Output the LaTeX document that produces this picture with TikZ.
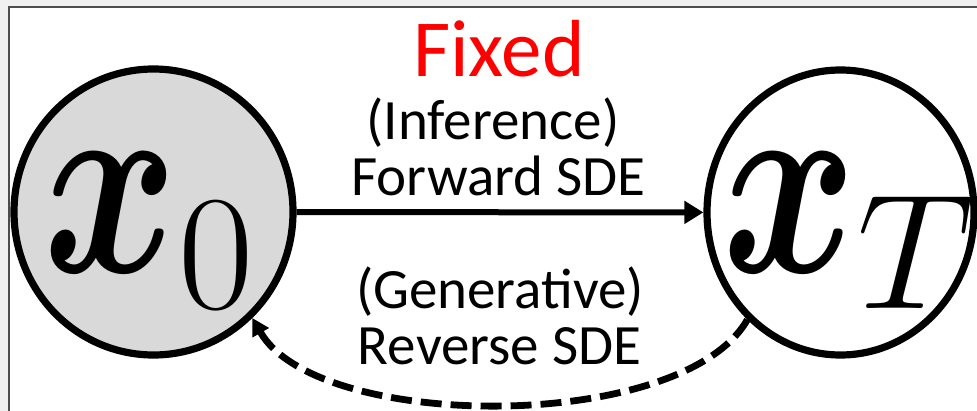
\RequirePackage{fix-cm}
\documentclass[tikz,border=0pt]{standalone}
\usepackage[no-math]{fontspec}
\setmainfont{Carlito}
\usepackage{bm}
\usepackage{tikz}
\usetikzlibrary{arrows.meta,shapes.geometric}
\definecolor{stategray}{HTML}{D9D9D9}
\definecolor{framegray}{HTML}{F0F0F0}
\definecolor{edgegray}{HTML}{4D4D4D}
\DeclareMathSizes{120}{120}{82}{60}
\newcommand{\bx}{\scalebox{0.85}[1.12]{$\bm{x}$}}

\begin{document}
\begin{tikzpicture}[
  x=0.5pt, y=-0.5pt,
  state/.style={draw, ellipse, line width=3.6pt, inner sep=0pt},
  sym/.style={inner sep=0pt, anchor=base, font=\fontsize{120}{130}\selectfont},
  lbl/.style={inner sep=0pt, anchor=base, font=\fontsize{28.5}{34}\selectfont},
  ar/.style={-{Triangle[length=9.5pt, width=11pt]}, line width=3pt},
  back/.style={-{Triangle[length=8.5pt, width=9pt]}, line width=3.4pt,
               dash pattern=on 10.5pt off 4.5pt}
]
% ---- Frame ---------------------------------------------------------------
\useasboundingbox (0,0) rectangle (977,411);
\fill[framegray] (0,0) rectangle (977,411);
\fill[white] (9,7) rectangle (977,411);
\draw[edgegray, line width=0.8pt] (9,411) -- (9,7) -- (977,7);

% ---- States --------------------------------------------------------------
\node[state, fill=stategray, minimum width=139.5pt, minimum height=143pt]
  (x0) at (153.5,212) {};
\node[state, fill=white, minimum width=133.5pt, minimum height=142.5pt]
  (xT) at (840.5,212.5) {};
\node[sym] (x0sym) at (149,272) {$\bx_0$};
\node[sym] (xTsym) at (848.5,272) {$\bx_T$};

% ---- Labels --------------------------------------------------------------
\node[lbl, font=\fontsize{40.5}{48}\selectfont, text=red] (fixed) at (499,77) {Fixed};
\node[lbl] (inf) at (493,140) {(Inference)};
\node[lbl] (fwd) at (498.5,195) {Forward SDE};
\node[lbl] (gen) at (500,308) {(Generative)};
\node[lbl] (rev) at (499.5,364) {Reverse SDE};

% ---- Flow ----------------------------------------------------------------
\draw[ar] (x0) -- (xT);
\draw[back] (xT.-131) .. controls +(-65,114) and +(65,114) .. (x0.-47);
\end{tikzpicture}
\end{document}
